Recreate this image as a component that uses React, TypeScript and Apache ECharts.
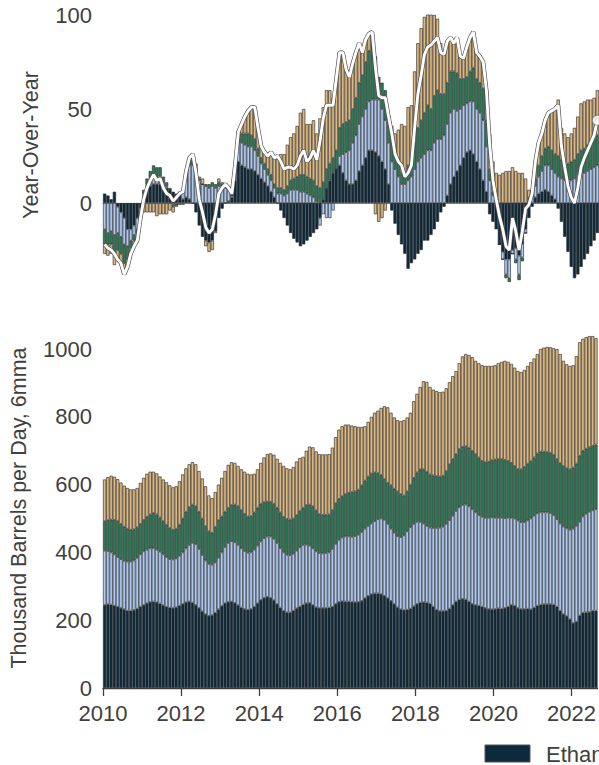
import React, { useEffect, useRef } from "react";
import * as echarts from "echarts";

const START_YEAR = 2010;
const MONTHS = 152;
const yearTickValues = [0, 24, 48, 72, 96, 120, 144];
const yoyTickValues = [0, 50, 100];
const levelTickValues = [0, 200, 400, 600, 800, 1000];
const seriesNames = ["Ethane", "Propane", "Butanes", "Natural Gasoline"];
const colors = ["#0c2a3c", "#aecaf3", "#2b7d57", "#deb87e"];

// Levels, thousand barrels per day (6mma), monthly from Jan 2010
const ethane = [
  245, 247, 246, 243, 240, 236, 232, 228, 228, 230, 234, 240,
  245, 250, 254, 255, 253, 249, 244, 240, 237, 236, 238, 243,
  248, 253, 255, 252, 245, 236, 226, 218, 213, 215, 222, 232,
  242, 250, 254, 255, 251, 244, 237, 233, 231, 233, 240, 250,
  260, 266, 269, 266, 259, 248, 237, 228, 223, 223, 228, 235,
  240, 246, 250, 251, 245, 238, 236, 236, 236, 237, 240, 248,
  254, 256, 255, 255, 254, 253, 254, 257, 265, 272, 277, 279,
  279, 277, 272, 265, 257, 248, 238, 232, 230, 231, 234, 241,
  248, 252, 253, 252, 249, 240, 231, 227, 227, 228, 234, 245,
  255, 261, 263, 261, 255, 248, 245, 243, 240, 236, 233, 232,
  233, 235, 234, 236, 240, 245, 243, 236, 233, 233, 234, 232,
  237, 243, 246, 247, 247, 247, 246, 240, 228, 218, 212, 203,
  192, 196, 214, 222, 223, 224, 228, 228,
];
const propane = [
  160, 157, 154, 151, 146, 144, 143, 145, 145, 146, 150, 154,
  158, 158, 158, 157, 155, 153, 150, 146, 143, 143, 144, 147,
  152, 159, 167, 176, 179, 174, 166, 158, 153, 149, 148, 152,
  158, 166, 174, 178, 179, 178, 175, 171, 168, 167, 168, 170,
  172, 176, 178, 181, 181, 180, 175, 172, 170, 169, 168, 170,
  175, 176, 173, 169, 167, 165, 162, 161, 162, 163, 170, 177,
  183, 188, 192, 192, 192, 195, 198, 203, 205, 206, 208, 213,
  219, 223, 224, 219, 213, 210, 210, 213, 220, 231, 240, 243,
  242, 238, 232, 226, 224, 232, 241, 246, 249, 256, 261, 263,
  267, 272, 277, 280, 281, 279, 273, 267, 265, 266, 269, 271,
  269, 267, 268, 265, 262, 257, 257, 258, 256, 256, 260, 268,
  271, 272, 272, 271, 271, 269, 264, 258, 257, 258, 259, 264,
  278, 282, 276, 284, 291, 296, 296, 299,
];
const butanes = [
  87, 91, 97, 102, 106, 104, 101, 97, 94, 92, 90, 90,
  93, 97, 100, 104, 104, 101, 98, 96, 92, 88, 88, 92,
  100, 108, 112, 113, 112, 110, 108, 102, 96, 94, 105, 111,
  106, 104, 104, 107, 111, 114, 113, 110, 107, 107, 110, 112,
  112, 106, 103, 102, 103, 104, 106, 105, 106, 105, 104, 105,
  107, 110, 117, 121, 124, 121, 115, 114, 113, 112, 115, 120,
  121, 122, 125, 129, 132, 132, 133, 138, 142, 146, 148, 144,
  136, 128, 120, 121, 128, 130, 132, 127, 118, 118, 126, 136,
  146, 155, 160, 160, 157, 155, 153, 151, 150, 156, 165, 167,
  168, 172, 172, 172, 173, 173, 172, 170, 165, 164, 166, 169,
  172, 173, 173, 172, 168, 162, 155, 152, 156, 163, 168, 169,
  172, 177, 179, 179, 178, 178, 178, 177, 178, 179, 177, 178,
  180, 184, 195, 194, 192, 190, 191, 191,
];
const gasoline = [
  123, 127, 129, 127, 124, 122, 121, 120, 119, 118, 116, 121,
  124, 127, 126, 122, 121, 121, 123, 125, 126, 125, 125, 128,
  130, 128, 126, 125, 124, 120, 118, 117, 106, 102, 103, 105,
  114, 120, 126, 126, 123, 119, 120, 124, 126, 123, 114, 113,
  120, 132, 140, 143, 145, 144, 146, 150, 149, 148, 152, 158,
  156, 150, 160, 171, 174, 174, 177, 178, 178, 178, 184, 195,
  204, 206, 205, 201, 196, 192, 185, 172, 160, 161, 167, 176,
  184, 198, 215, 223, 214, 210, 210, 215, 222, 218, 212, 226,
  232, 243, 260, 265, 258, 253, 251, 249, 248, 244, 242, 245,
  245, 253, 266, 272, 273, 276, 275, 278, 282, 284, 282, 278,
  278, 283, 287, 292, 292, 292, 290, 289, 287, 286, 288, 292,
  292, 293, 303, 307, 310, 311, 314, 325, 322, 310, 307, 305,
  302, 317, 335, 330, 329, 328, 323, 314,
];

// Year-over-year change contributions
const yoyEthane = [
  5, 4, 2, 6, -2, -5, -8, -14, -14, -12, -8, -3,
  4, 7, 9, 10, 10, 10, 9, 8, 7, 6, 5, 4,
  2, 3, 2, 0, -5, -12, -18, -20, -21, -20, -15, -8,
  -3, 0, 1, 3, 12, 22, 20, 19, 18, 18, 17, 15,
  13, 11, 9, 6, 3, 0, -4, -8, -12, -16, -19, -21,
  -23, -22, -20, -18, -16, -14, -8, 2, 8, 12, 16, 18,
  20, 16, 12, 10, 10, 12, 17, 20, 24, 28, 28, 27,
  25, 22, 18, 10, -4, -11, -17, -22, -27, -35, -32, -30,
  -27, -25, -20, -20, -17, -14, -10, -5, -2, 4, 10, 14,
  17, 20, 24, 27, 28, 26, 22, 18, 12, 6, -6, -10,
  -14, -22, -26, -30, -30, -25, -24, -28, -22, -14, -8, -2,
  3, 5, 6, 7, 6, 4, 2, -3, -10, -18, -26, -34,
  -40, -38, -34, -30, -27, -23, -20, -16,
];
const yoyPropane = [
  -14, -16, -15, -17, -14, -13, -14, -9, -6, -5, -6, -2,
  1, 3, 4, 5, 4, 4, 2, 1, 0, -1, -1, 1,
  4, 12, 18, 20, 16, 12, 10, 9, 8, 9, 8, 9,
  9, 8, 6, 1, 5, 10, 12, 12, 12, 12, 11, 10,
  8, 7, 6, 6, 5, 5, 5, 4, 5, 7, 7, 7,
  6, 6, 5, 4, 3, 1, -4, -6, -8, -8, -4, 0,
  5, 10, 15, 18, 22, 24, 25, 26, 26, 26, 27, 28,
  30, 28, 26, 22, 22, 18, 14, 10, 10, 12, 14, 18,
  22, 24, 26, 28, 28, 32, 34, 34, 36, 38, 38, 36,
  32, 30, 28, 26, 26, 28, 28, 30, 32, 24, 12, 4,
  2, 0, -4, -8, -10, -2, -6, -10, -7, -2, 2, 3,
  6, 9, 11, 13, 14, 14, 14, 14, 13, 12, 12, 12,
  13, 15, 16, 16, 17, 18, 19, 20,
];
const yoyButanes = [
  -8, -6, -7, -9, -9, -9, -10, -7, -4, -3, -3, -1,
  2, 3, 4, 5, 5, 5, 3, 2, 1, -1, 0, 1,
  1, 2, 3, 3, 2, 1, 0, 1, 2, 2, 2, 2,
  1, 1, 1, 0, 2, 4, 5, 6, 7, 6, 6, 4,
  3, 3, 3, 3, 2, 3, 3, 3, 4, 5, 6, 7,
  9, 9, 9, 9, 9, 8, 8, 9, 10, 9, 8, 10,
  15, 16, 16, 16, 18, 20, 22, 22, 25, 27, 30, 23,
  12, 14, 16, 14, 12, 10, 8, 6, 6, 8, 10, 14,
  18, 20, 22, 24, 22, 25, 26, 24, 22, 22, 22, 20,
  20, 16, 14, 14, 16, 18, 16, 16, 17, 14, 6, 2,
  0, 0, 0, -2, -2, 0, -2, -3, -2, 0, 1, 1,
  4, 6, 8, 9, 10, 10, 10, 11, 10, 9, 9, 10,
  10, 11, 12, 13, 14, 14, 15, 16,
];
const yoyGasoline = [
  -5, -6, -5, -7, -5, -5, -6, -4, -3, -3, -3, -2,
  -5, -5, -5, -5, -7, -6, -6, -6, -4, -3, -1, -1,
  -1, 0, 1, 3, 3, 1, 3, -3, -5, -5, -1, 2,
  1, 1, 0, 1, 1, 2, 5, 9, 12, 15, 17, 11,
  6, 6, 7, 12, 14, 17, 18, 19, 22, 23, 24, 27,
  33, 35, 28, 29, 32, 28, 37, 40, 42, 39, 32, 38,
  40, 38, 28, 23, 24, 24, 21, 12, 12, 9, 6, -6,
  -10, -8, -4, 0, 7, 9, 17, 26, 25, 31, 28, 38,
  45, 49, 51, 51, 51, 43, 38, 27, 23, 22, 18, 15,
  19, 12, 11, 16, 18, 19, 14, 14, 14, 16, 19, 16,
  14, 15, 16, 17, 17, 19, 17, 16, 16, 13, 4, 3,
  9, 12, 12, 15, 18, 21, 24, 30, 17, 16, 14, 15,
  17, 20, 25, 25, 24, 23, 22, 24,
];
const yoyTotal = [
  -22, -24, -25, -27, -30, -32, -38, -34, -27, -23, -20, -8,
  2, 8, 12, 15, 12, 13, 8, 5, 4, 1, 3, 5,
  6, 17, 24, 26, 16, 2, -5, -13, -16, -14, -6, 5,
  8, 10, 8, 5, 20, 38, 42, 46, 49, 51, 51, 40,
  30, 27, 25, 27, 24, 25, 22, 18, 19, 19, 18, 20,
  25, 28, 22, 24, 28, 23, 33, 45, 52, 52, 52, 66,
  80, 80, 71, 67, 74, 80, 85, 80, 87, 90, 91, 72,
  57, 56, 56, 46, 37, 26, 22, 20, 14, 16, 20, 40,
  58, 68, 79, 83, 84, 86, 88, 80, 79, 86, 88, 85,
  88, 78, 77, 83, 88, 91, 80, 78, 75, 60, 31, 12,
  2, -7, -14, -23, -25, -8, -15, -25, -15, -3, -1, 5,
  22, 32, 37, 44, 48, 49, 50, 52, 30, 19, 9, 3,
  0, 8, 19, 24, 28, 32, 36, 44,
];

const FONT = "'Liberation Sans', Arial, Helvetica, sans-serif";
const TEXT = "#404040";

export default function App() {
  const ref = useRef<HTMLDivElement>(null);

  useEffect(() => {
    if (!ref.current) return;
    const chart = echarts.init(ref.current, null, { renderer: "svg" });
    const months = Array.from({ length: MONTHS }, (_, i) =>
      `${START_YEAR + Math.floor(i / 12)}-${String((i % 12) + 1).padStart(2, "0")}`
    );
    const levels = [ethane, propane, butanes, gasoline];
    const yoys = [yoyEthane, yoyPropane, yoyButanes, yoyGasoline];
    const barStyle = (c: string) => ({ color: c, borderColor: "#2e2e2e", borderWidth: 0.65 });

    const bottomBars = levels.map((arr, k) => ({
      name: seriesNames[k],
      type: "bar",
      xAxisIndex: 1,
      yAxisIndex: 1,
      stack: "level",
      barWidth: "100%",
      itemStyle: barStyle(colors[k]),
      data: arr,
    }));
    const topBars = yoys.map((arr, k) => ({
      name: seriesNames[k] + " YoY",
      type: "bar",
      xAxisIndex: 0,
      yAxisIndex: 0,
      stack: "yoy",
      stackStrategy: "samesign",
      barWidth: "100%",
      itemStyle: barStyle(colors[k]),
      data: arr,
    }));
    const last = yoyTotal.length - 1;
    const lastPoint = yoyTotal.map((v, i) => (i === last ? v : null));

    chart.setOption({
      animation: false,
      textStyle: { fontFamily: FONT },
      grid: [
        { left: 103, top: 15, width: 496, height: 282 },
        { left: 103, top: 315.1, width: 496, height: 372.9 },
      ],
      xAxis: [
        {
          type: "category", gridIndex: 0, data: months, boundaryGap: true,
          axisLabel: { show: false }, axisTick: { show: false }, splitLine: { show: false },
          axisLine: { show: true, onZero: true, lineStyle: { color: "#666", width: 0.8 } },
        },
        {
          type: "category", gridIndex: 1, data: months, boundaryGap: true,
          axisLabel: { show: false }, axisTick: { show: false }, splitLine: { show: false },
          axisLine: { show: false },
        },
        {
          type: "value", gridIndex: 1, min: 0, max: MONTHS, position: "bottom",
          splitLine: { show: false },
          axisLine: { show: true, onZero: false, lineStyle: { color: TEXT, width: 1.3 } },
          axisTick: { show: true, customValues: yearTickValues, length: 8, lineStyle: { color: TEXT, width: 1.3 } },
          axisLabel: {
            customValues: yearTickValues, fontSize: 22, color: TEXT, margin: 14, fontFamily: FONT,
            formatter: (v: number) => String(START_YEAR + v / 12),
          },
        },
      ],
      yAxis: [
        {
          type: "value", gridIndex: 0, min: -50, max: 100,
          axisLine: { show: false }, axisTick: { show: false }, splitLine: { show: false },
          axisLabel: {
            customValues: yoyTickValues, fontSize: 22, color: TEXT, margin: 11, fontFamily: FONT,
            formatter: (v: number) => String(v),
          },
        },
        {
          type: "value", gridIndex: 1, min: 0, max: 1100,
          axisLine: { show: false }, axisTick: { show: false }, splitLine: { show: false },
          axisLabel: {
            customValues: levelTickValues, fontSize: 22, color: TEXT, margin: 11, fontFamily: FONT,
            formatter: (v: number) => String(v),
          },
        },
      ],
      series: [
        ...bottomBars,
        ...topBars,
        {
          name: "YoY outline", type: "line", xAxisIndex: 0, yAxisIndex: 0,
          symbol: "none", lineStyle: { color: "#505050", width: 4.2 }, data: yoyTotal, z: 3,
        },
        {
          name: "Total YoY", type: "line", xAxisIndex: 0, yAxisIndex: 0,
          symbol: "none", lineStyle: { color: "#ffffff", width: 2.9 }, data: yoyTotal, z: 4,
        },
        {
          name: "Latest", type: "scatter", xAxisIndex: 0, yAxisIndex: 0,
          symbolSize: 10, itemStyle: { color: "#ffffff", borderColor: "#666", borderWidth: 0.8 },
          data: lastPoint, z: 5,
        },
      ],
      graphic: [
        {
          type: "text", x: 31, y: 145, rotation: Math.PI / 2,
          style: { text: "Year-Over-Year", fontSize: 21.5, fontFamily: FONT, fill: TEXT,
            align: "center", verticalAlign: "middle", textAlign: "center", textVerticalAlign: "middle" },
        },
        {
          type: "text", x: 19, y: 508, rotation: Math.PI / 2,
          style: { text: "Thousand Barrels per Day, 6mma", fontSize: 21.5, fontFamily: FONT, fill: TEXT,
            align: "center", verticalAlign: "middle", textAlign: "center", textVerticalAlign: "middle" },
        },
        {
          type: "rect", shape: { x: 485, y: 745, width: 45, height: 17 },
          style: { fill: colors[0], stroke: "#555", lineWidth: 1 },
        },
        {
          type: "text", x: 546, y: 754,
          style: { text: "Ethane", fontSize: 22, fontFamily: FONT, fill: TEXT,
            align: "left", verticalAlign: "middle", textAlign: "left", textVerticalAlign: "middle" },
        },
      ],
    });
    return () => chart.dispose();
  }, []);

  return (
    <div
      ref={ref}
      style={{ position: "absolute", left: 0, top: 0, width: 599, height: 765, overflow: "hidden", background: "#fff" }}
    />
  );
}
